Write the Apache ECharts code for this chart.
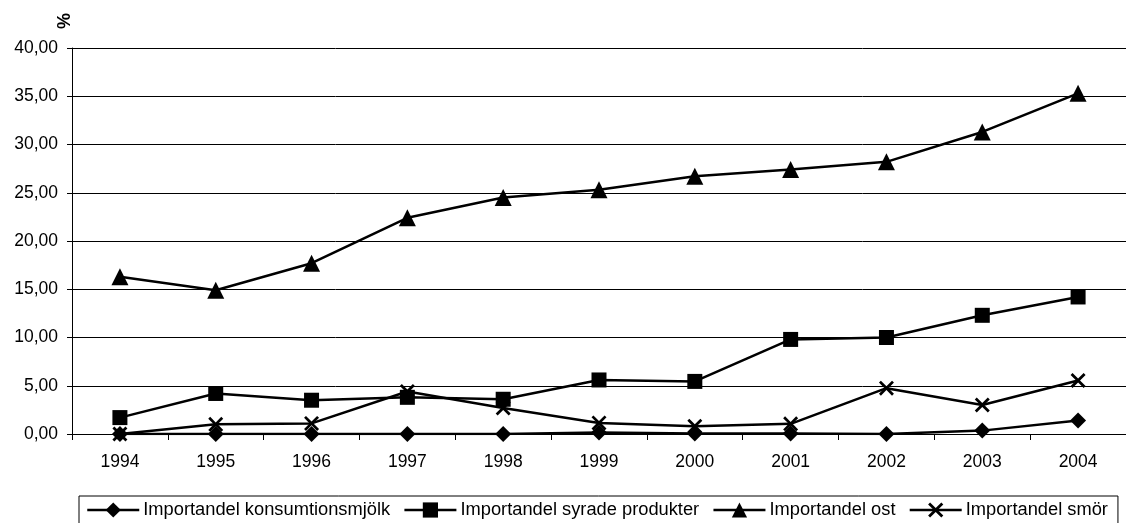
<!DOCTYPE html>
<html>
<head>
<meta charset="utf-8">
<script src="https://cdn.jsdelivr.net/npm/echarts@6/dist/echarts.min.js"></script>
<style>
html,body{margin:0;padding:0;background:#fff;}
#chart{width:1126px;height:523px;}
</style>
</head>
<body>
<div id="chart"></div>
<script>
const years = ['1994','1995','1996','1997','1998','1999','2000','2001','2002','2003','2004'];
const konsumtionsmjolk = [0.0, 0.0, 0.0, 0.0, 0.0, 0.15, 0.05, 0.05, 0.0, 0.35, 1.4];
const syrade = [1.7, 4.2, 3.5, 3.8, 3.6, 5.6, 5.45, 9.8, 10.0, 12.3, 14.2];
const ost = [16.3, 14.9, 17.7, 22.4, 24.5, 25.3, 26.7, 27.4, 28.2, 31.3, 35.3];
const smor = [0.0, 1.0, 1.1, 4.4, 2.7, 1.15, 0.8, 1.05, 4.75, 3.0, 5.55];
const seriesNames = ['Importandel konsumtionsmjölk','Importandel syrade produkter','Importandel ost','Importandel smör'];

const FONT = 'Liberation Sans, Arial, sans-serif';
const xPath = 'path://M0,1.3L1.3,0L5,3.7L8.7,0L10,1.3L6.3,5L10,8.7L8.7,10L5,6.3L1.3,10L0,8.7L3.7,5Z';

function mk(name, data, symbol, size) {
  return {
    name: name, type: 'line', data: data,
    symbol: symbol, symbolSize: size,
    lineStyle: {color: '#000', width: 2.5},
    itemStyle: {color: '#000'},
    emphasis: {disabled: true},
    animation: false
  };
}

const chart = echarts.init(document.getElementById('chart'));
chart.setOption({
  backgroundColor: '#fff',
  animation: false,
  textStyle: {fontFamily: FONT},
  grid: {left: 72, top: 48, bottom: 89, right: -13},
  xAxis: {
    type: 'category', data: years, boundaryGap: true,
    axisLine: {lineStyle: {color: '#000', width: 1}},
    axisTick: {show: true, length: 6, lineStyle: {color: '#000'}},
    axisLabel: {color: '#000', fontSize: 17.5, fontFamily: FONT, margin: 19}
  },
  yAxis: {
    type: 'value', min: 0, max: 40, interval: 5,
    axisLine: {show: true, lineStyle: {color: '#000', width: 1}},
    axisTick: {show: true, length: 5, lineStyle: {color: '#000'}},
    splitLine: {lineStyle: {color: '#000', width: 1}},
    axisLabel: {color: '#000', fontSize: 17.5, fontFamily: FONT, margin: 14,
      formatter: v => v.toFixed(2).replace('.', ',')}
  },
  legend: {
    left: 79, top: 496,
    data: seriesNames,
    itemWidth: 52, itemHeight: 19, itemGap: 13,
    borderColor: '#000', borderWidth: 1,
    padding: [5, 10, 20, 7],
    lineStyle: {width: 2.5, color: '#000'},
    textStyle: {color: '#000', fontSize: 18.3, fontFamily: FONT, padding: [0, 0, 0, -1]}
  },
  graphic: [{
    type: 'text', left: 56, top: 13, rotation: Math.PI / 2,
    style: {text: '%', fill: '#000', font: 'bold 18px ' + FONT}
  }],
  series: [
    mk(seriesNames[0], konsumtionsmjolk, 'diamond', 16),
    mk(seriesNames[1], syrade, 'rect', 15),
    mk(seriesNames[2], ost, 'triangle', 17),
    mk(seriesNames[3], smor, xPath, 15)
  ]
});
</script>
</body>
</html>
